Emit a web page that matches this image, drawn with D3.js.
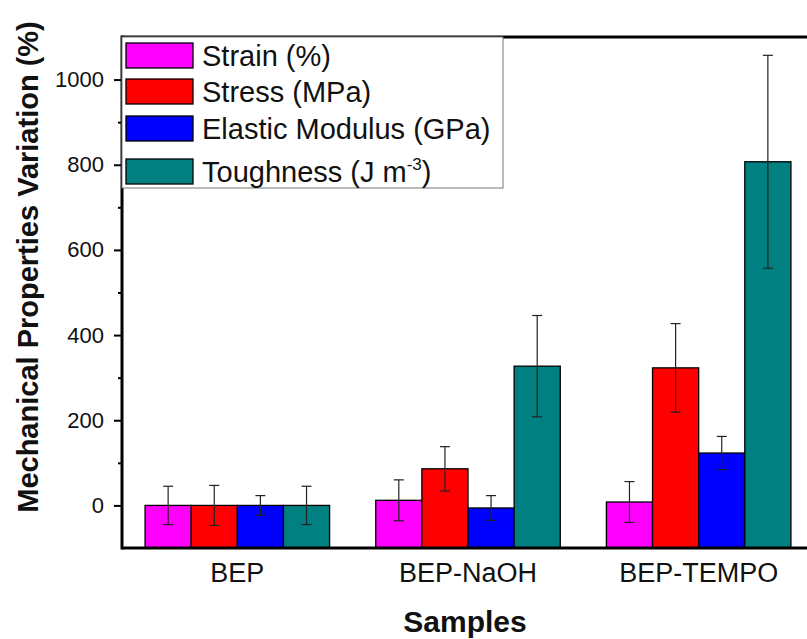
<!DOCTYPE html>
<html>
<head>
<meta charset="utf-8">
<script src="https://cdn.jsdelivr.net/npm/d3@7"></script>
<style>
	body { margin: 0; background: #fff; }
	svg { display: block; font-family: "Liberation Sans", Arial, sans-serif; }
</style>
</head>
<body>
<div id="chart"></div>
<script>
// Data
let samples = ["BEP", "BEP-NaOH", "BEP-TEMPO"];
let seriesNames = ["Strain (%)", "Stress (MPa)", "Elastic Modulus (GPa)", "Toughness"];
let strainValues = [0, 12, 8];
let strainErrors = [45, 48, 48];
let stressValues = [0, 86, 323];
let stressErrors = [47, 52, 104];
let modulusValues = [0, -6, 123];
let modulusErrors = [23, 29, 39];
let toughnessValues = [0, 327, 807];
let toughnessErrors = [45, 119, 250];
let yTicks = [0, 200, 400, 600, 800, 1000];
let yMinorTicks = [100, 300, 500, 700, 900];

let colors = ["#ff00ff", "#ff0000", "#0000ff", "#008080"];

let width = 807;
let height = 639;
let margin = { top: 37, right: -7, bottom: 91, left: 122 };

let series = [
	{ name: seriesNames[0], values: strainValues, errors: strainErrors },
	{ name: seriesNames[1], values: stressValues, errors: stressErrors },
	{ name: seriesNames[2], values: modulusValues, errors: modulusErrors },
	{ name: seriesNames[3], values: toughnessValues, errors: toughnessErrors }
];

let svg = d3.select("#chart").append("svg")
	.attr("width", width)
	.attr("height", height);

let x0 = d3.scaleBand().domain(samples)
	.range([margin.left, width - margin.right])
	.paddingInner(0.2).paddingOuter(0.1);

let x1 = d3.scaleBand().domain(d3.range(series.length))
	.range([0, x0.bandwidth()]);

let y = d3.scaleLinear().domain([-100, 1100])
	.range([height - margin.bottom, margin.top]);

// Bars (drawn up from the bottom of the frame)
let groups = svg.append("g").selectAll("g")
	.data(samples)
	.enter().append("g")
	.attr("transform", function(d) { return "translate(" + x0(d) + ",0)"; });

function rows(d, i) {
	return series.map(function(s, j) { return { j: j, v: s.values[i], e: s.errors[i] }; });
}

groups.selectAll("rect")
	.data(rows)
	.enter().append("rect")
	.attr("x", function(d) { return x1(d.j); })
	.attr("width", x1.bandwidth())
	.attr("y", function(d) { return y(d.v); })
	.attr("height", function(d) { return y(y.domain()[0]) - y(d.v); })
	.style("fill", function(d) { return colors[d.j]; })
	.style("stroke", "#000")
	.style("stroke-width", 1.3);

// Error bars
let err = groups.selectAll(".err")
	.data(rows)
	.enter().append("g")
	.attr("class", "err")
	.style("stroke", "#222")
	.style("stroke-width", 1.2);

err.append("line")
	.attr("x1", function(d) { return x1(d.j) + x1.bandwidth() / 2; })
	.attr("x2", function(d) { return x1(d.j) + x1.bandwidth() / 2; })
	.attr("y1", function(d) { return y(d.v + d.e); })
	.attr("y2", function(d) { return y(d.v - d.e); });

err.selectAll(".cap")
	.data(function(d) { return [d.v + d.e, d.v - d.e].map(function(v) { return { j: d.j, v: v }; }); })
	.enter().append("line")
	.attr("x1", function(d) { return x1(d.j) + x1.bandwidth() / 2 - 5; })
	.attr("x2", function(d) { return x1(d.j) + x1.bandwidth() / 2 + 5; })
	.attr("y1", function(d) { return y(d.v); })
	.attr("y2", function(d) { return y(d.v); });

// Y axis
let yAxis = d3.axisLeft(y).tickValues(yTicks).tickSize(8).tickPadding(10).tickFormat(d3.format("d"));
let yg = svg.append("g").attr("transform", "translate(" + margin.left + ",0)").call(yAxis);
yg.select(".domain").remove();
yg.selectAll(".tick line").style("stroke-width", 2);
yg.selectAll(".tick text").style("font-size", "22px").style("fill", "#111");

let yMinor = d3.axisLeft(y).tickValues(yMinorTicks).tickSize(4).tickFormat("");
let ym = svg.append("g").attr("transform", "translate(" + margin.left + ",0)").call(yMinor);
ym.select(".domain").remove();
ym.selectAll(".tick line").style("stroke-width", 2);

// X axis
let xAxis = d3.axisBottom(x0).tickSize(0);
let xg = svg.append("g").attr("transform", "translate(0," + (height - margin.bottom) + ")").call(xAxis);
xg.select(".domain").remove();
xg.selectAll(".tick text")
	.attr("y", 34).attr("dy", 0)
	.style("font-size", "27px").style("fill", "#111");

// Frame lines
svg.append("line")
	.attr("x1", margin.left).attr("x2", width)
	.attr("y1", y(-100)).attr("y2", y(-100))
	.style("stroke", "#000").style("stroke-width", 3);
svg.append("line")
	.attr("x1", margin.left).attr("x2", width)
	.attr("y1", y(1100)).attr("y2", y(1100))
	.style("stroke", "#000").style("stroke-width", 3);
svg.append("line")
	.attr("x1", margin.left).attr("x2", margin.left)
	.attr("y1", y(1100) - 1.5).attr("y2", y(-100) + 1.5)
	.style("stroke", "#000").style("stroke-width", 3);

// Legend
let legend = svg.append("g").attr("transform", "translate(" + margin.left + "," + margin.top + ")");
legend.append("rect")
	.attr("x", 0).attr("y", 0).attr("width", 381).attr("height", 151)
	.style("fill", "#fff").style("stroke", "#777").style("stroke-width", 1);
let rowY = [6, 42, 79, 122];
let items = legend.selectAll(".item")
	.data(series)
	.enter().append("g")
	.attr("transform", function(d, i) { return "translate(4," + rowY[i] + ")"; });
items.append("rect")
	.attr("width", 67).attr("height", 25)
	.style("fill", function(d, i) { return colors[i]; })
	.style("stroke", "#000").style("stroke-width", 1.3);
let labels = items.append("text")
	.attr("x", 76).attr("y", 23)
	.style("font-size", "29px").style("fill", "#111")
	.text(function(d) { return d.name; });
labels.filter(function(d, i) { return i === 3; })
	.text(null)
	.call(function(t) {
		t.append("tspan").text("Toughness (J m");
		t.append("tspan").attr("dy", -12).style("font-size", "17px").text("-3");
		t.append("tspan").attr("dy", 12).text(")");
	});

// Axis titles
svg.append("text")
	.attr("transform", "translate(38," + 267 + ") rotate(-90)")
	.attr("text-anchor", "middle")
	.style("font-size", "29px").style("font-weight", "bold").style("fill", "#111")
	.text("Mechanical Properties Variation (%)");
svg.append("text")
	.attr("x", 465).attr("y", 632)
	.attr("text-anchor", "middle")
	.style("font-size", "30px").style("font-weight", "bold").style("fill", "#111")
	.text("Samples");
</script>
</body>
</html>
